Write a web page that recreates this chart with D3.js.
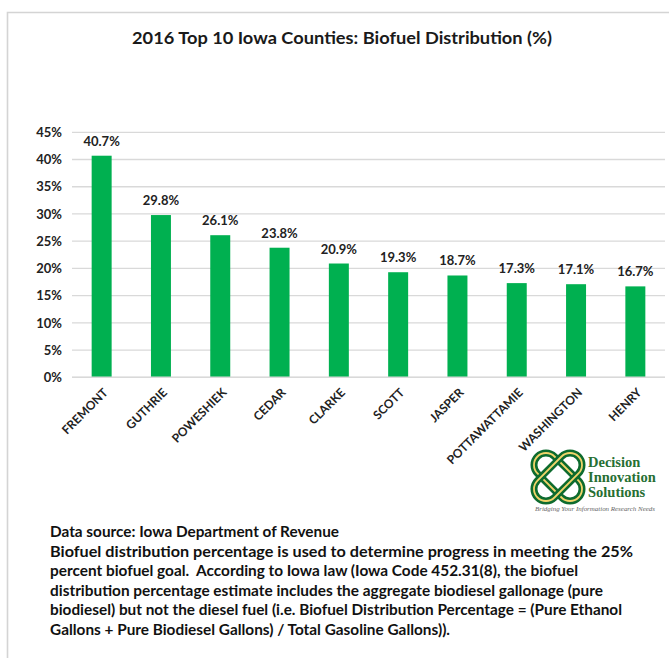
<!DOCTYPE html>
<html>
<head>
<meta charset="utf-8">
<script src="https://cdn.jsdelivr.net/npm/d3@7"></script>
<style>
  html, body { margin: 0; padding: 0; background: #fff; }
  svg { display: block; }
  text { font-family: Lato, "Open Sans", sans-serif; }
</style>
</head>
<body>
<script>
// 2016 biofuel distribution share, top ten Iowa counties
const counties = ["FREMONT", "GUTHRIE", "POWESHIEK", "CEDAR", "CLARKE", "SCOTT",
                  "JASPER", "POTTAWATTAMIE", "WASHINGTON", "HENRY"];
const biofuelPct = [40.7, 29.8, 26.1, 23.8, 20.9, 19.3, 18.7, 17.3, 17.1, 16.7];
const yTicks = [0, 5, 10, 15, 20, 25, 30, 35, 40, 45];

const title = "2016 Top 10 Iowa Counties: Biofuel Distribution (%)";
const notes = [
  "Data source: Iowa Department of Revenue",
  "Biofuel distribution percentage is used to determine progress in meeting the 25%",
  "percent biofuel goal.  According to Iowa law (Iowa Code 452.31(8), the biofuel",
  "distribution percentage estimate includes the aggregate biodiesel gallonage (pure",
  "biodiesel) but not the diesel fuel (i.e. Biofuel Distribution Percentage = (Pure Ethanol",
  "Gallons + Pure Biodiesel Gallons) / Total Gasoline Gallons))."
];
const noteWidths = [289, 583, 528, 553, 572, 400];

const W = 669, H = 658;
const svg = d3.select("body").append("svg").attr("width", W).attr("height", H);

// outer frame (top and left edges visible)
svg.append("path")
  .attr("d", "M7.5,658 V12.5 H669")
  .attr("fill", "none").attr("stroke", "#d4d4d4").attr("stroke-width", 1.6);

svg.append("text")
  .attr("x", 342).attr("y", 44)
  .attr("text-anchor", "middle")
  .attr("font-size", 17).attr("font-weight", 700).attr("fill", "#1a1a1a")
  .attr("textLength", 420).attr("lengthAdjust", "spacingAndGlyphs")
  .text(title);

const plot = { left: 72, right: 665, top: 132.3, bottom: 377.3 };

const x = d3.scaleBand()
  .domain(counties)
  .range([plot.left, plot.right])
  .paddingInner(0.663)
  .paddingOuter(0.3315);

const y = d3.scaleLinear()
  .domain([0, 45])
  .range([plot.bottom, plot.top]);

// horizontal gridlines
svg.append("g")
  .selectAll("line")
  .data(yTicks)
  .join("line")
  .attr("x1", plot.left).attr("x2", plot.right)
  .attr("y1", d => y(d)).attr("y2", d => y(d))
  .attr("stroke", "#d9d9d9").attr("stroke-width", 1.3);

// y axis labels
const yAxis = d3.axisLeft(y).tickValues(yTicks).tickFormat(d => d + "%").tickSize(0).tickPadding(10);
const yg = svg.append("g").attr("transform", `translate(${plot.left},0)`).call(yAxis);
yg.select(".domain").remove();
yg.selectAll("text")
  .attr("font-size", 13).attr("font-weight", 700).attr("fill", "#222")
  .style("font-family", "Lato, 'Open Sans', sans-serif");

// bars
svg.append("g")
  .selectAll("rect")
  .data(counties)
  .join("rect")
  .attr("x", d => x(d))
  .attr("width", x.bandwidth())
  .attr("y", (d, i) => y(biofuelPct[i]))
  .attr("height", (d, i) => y(0) - y(biofuelPct[i]))
  .attr("fill", "#00b050");

// value labels
svg.append("g")
  .selectAll("text")
  .data(counties)
  .join("text")
  .attr("x", d => x(d) + x.bandwidth() / 2)
  .attr("y", (d, i) => y(biofuelPct[i]) - 10)
  .attr("text-anchor", "middle")
  .attr("font-size", 13).attr("font-weight", 700).attr("fill", "#222")
  .text((d, i) => biofuelPct[i].toFixed(1) + "%");

// baseline
svg.append("line")
  .attr("x1", plot.left).attr("x2", plot.right)
  .attr("y1", y(0)).attr("y2", y(0))
  .attr("stroke", "#d9d9d9").attr("stroke-width", 1.5);

// x axis category labels, rotated
const xAxis = d3.axisBottom(x).tickSize(0).tickPadding(0);
const xg = svg.append("g").attr("transform", `translate(0,${plot.bottom})`).call(xAxis);
xg.select(".domain").remove();
xg.selectAll("text")
  .attr("text-anchor", "end")
  .attr("font-size", 12).attr("font-weight", 700).attr("fill", "#222")
  .style("font-family", "Lato, 'Open Sans', sans-serif")
  .attr("dy", 0).attr("y", 0)
  .attr("transform", "translate(7,16) rotate(-45)");

// company logo
const logo = svg.append("g").attr("transform", "translate(558,477)");
[45, -45].forEach(a => {
  logo.append("rect")
    .attr("x", -29).attr("y", -12).attr("width", 58).attr("height", 24).attr("rx", 12)
    .attr("transform", `rotate(${a})`)
    .attr("fill", "none").attr("stroke", "#0d6b2e").attr("stroke-width", 7);
  logo.append("rect")
    .attr("x", -29).attr("y", -12).attr("width", 58).attr("height", 24).attr("rx", 12)
    .attr("transform", `rotate(${a})`)
    .attr("fill", "none").attr("stroke", "#f0d46a").attr("stroke-width", 1.8);
});
const logoText = ["Decision", "Innovation", "Solutions"];
svg.append("g")
  .selectAll("text")
  .data(logoText)
  .join("text")
  .attr("x", 588).attr("y", (d, i) => 467 + i * 15)
  .attr("font-size", 14.5).attr("font-weight", 700).attr("fill", "#276f33")
  .style("font-family", "'Liberation Serif', 'DejaVu Serif', serif")
  .text(d => d);
svg.append("text")
  .attr("x", 535).attr("y", 511)
  .attr("font-size", 6).attr("font-style", "italic").attr("fill", "#666")
  .style("font-family", "'Liberation Serif', 'DejaVu Serif', serif")
  .attr("textLength", 120).attr("lengthAdjust", "spacingAndGlyphs")
  .text("Bridging Your Information Research Needs");

// source and definition note
svg.append("g")
  .selectAll("text")
  .data(notes)
  .join("text")
  .attr("x", 50).attr("y", (d, i) => 537 + i * 19.5)
  .attr("font-size", 15).attr("font-weight", 700).attr("fill", "#111")
  .style("white-space", "pre")
  .attr("textLength", (d, i) => noteWidths[i]).attr("lengthAdjust", "spacingAndGlyphs")
  .text(d => d);
</script>
</body>
</html>
